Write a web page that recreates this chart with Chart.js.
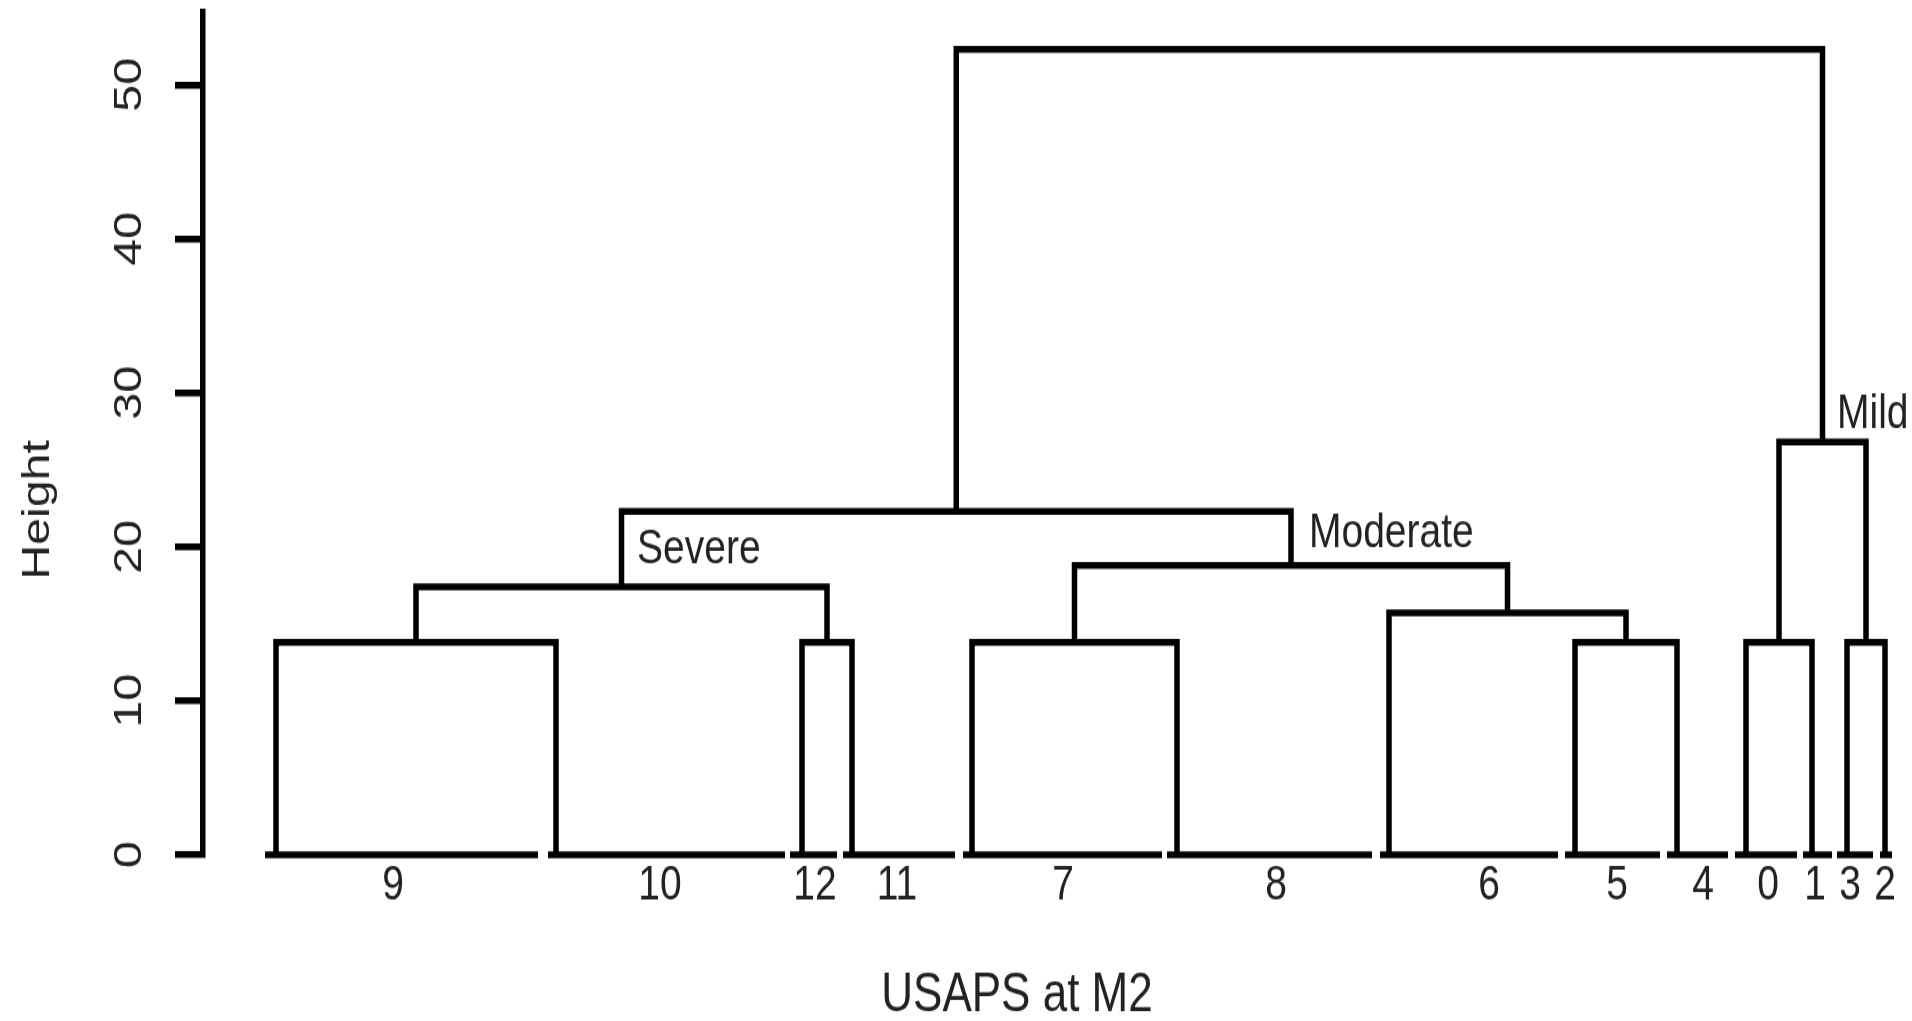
<!DOCTYPE html>
<html><head><meta charset="utf-8">
<script src="https://cdn.jsdelivr.net/npm/chart.js@4.4.1/dist/chart.umd.min.js"></script>
<style>
html,body{margin:0;padding:0;background:#fff;overflow:hidden}
</style>
</head><body>
<canvas id="c" width="1912" height="823" style="display:block;width:1912px;height:1021px"></canvas>
<script>
// ---- data ----
const leafLabels = ['9','10','12','11','7','8','6','5','4','0','1','3','2'];
const leafStart  = [6.2, 34.5, 58.7, 64.0, 76.0, 96.4, 117.7, 136.2, 146.4, 153.2, 160.0, 163.4, 167.7];
const leafEnd    = [33.5, 58.2, 63.4, 75.2, 95.9, 116.9, 135.5, 145.7, 152.5, 159.4, 162.9, 167.0, 168.9];
const leafPos    = [7.3, 35.3, 59.9, 64.9, 76.9, 97.4, 118.6, 137.2, 147.4, 154.3, 160.9, 164.4, 168.2];
const labelPos   = [19.0, 45.7, 61.2, 69.4, 86.0, 107.3, 128.6, 141.4, 150.0, 156.5, 161.2, 164.7, 168.2];
// R-style merge table: negative = leaf (1-based), positive = earlier merge (1-based)
const mergeLeft   = [-1, -3, -5, -8, -10, -12, -7, 1, 3, 8, 5, 10];
const mergeRight  = [-2, -4, -6, -9, -11, -13, 4, 2, 7, 9, 6, 11];
const mergeHeight = [13.8, 13.8, 13.8, 13.8, 13.8, 13.8, 15.7, 17.4, 18.8, 22.3, 26.8, 52.3];
const yTickValues = [0, 10, 20, 30, 40, 50];
const clusterNames = ['Severe', 'Moderate', 'Mild'];
const clusterNameX = [43.4, 110.6, 163.4];
const clusterNameY = [19.8, 20.85, 28.6];
const yTitle = 'Height';
const xTitle = 'USAPS at M2';

// ---- build line paths from the tree ----
const mergeX = [];
function nodeX(i){ return i < 0 ? leafPos[-i-1] : mergeX[i-1]; }
function nodeH(i){ return i < 0 ? 0 : mergeHeight[i-1]; }
const treePts = [];
for (let m = 0; m < mergeHeight.length; m++) {
  const a = mergeLeft[m], b = mergeRight[m], h = mergeHeight[m];
  const xa = nodeX(a), xb = nodeX(b);
  treePts.push({x:xa, y:nodeH(a)}, {x:xa, y:h}, {x:xb, y:h}, {x:xb, y:nodeH(b)}, {x:xb, y:null});
  mergeX.push((xa + xb) / 2);
}
const barPts = [];
leafStart.forEach((s, i) => {
  barPts.push({x:s, y:0}, {x:leafEnd[i], y:0}, {x:leafEnd[i], y:null});
});

const FONT = '"Liberation Sans", Arial, Helvetica, sans-serif';
const TXT = '#222';

const textPlugin = {
  id: 'texts',
  afterDraw(chart) {
    const ctx = chart.ctx, xs = chart.scales.x, ys = chart.scales.y;
    ctx.save();
    ctx.fillStyle = TXT;
    ctx.font = '39px ' + FONT;
    ctx.textAlign = 'center';
    ctx.textBaseline = 'middle';
    yTickValues.forEach(v => {
      ctx.save();
      ctx.translate(ys.right - 73, ys.getPixelForValue(v));
      ctx.rotate(-Math.PI / 2);
      ctx.fillText(String(v), 0, 0);
      ctx.restore();
    });
    ctx.save();
    ctx.translate(38, 411);
    ctx.rotate(-Math.PI / 2);
    ctx.fillText(yTitle, 0, 0);
    ctx.restore();
    ctx.font = '44px ' + FONT;
    ctx.fillText(xTitle, 1017, 803);
    ctx.font = '39px ' + FONT;
    ctx.textAlign = 'left';
    clusterNames.forEach((n, i) => {
      ctx.fillText(n, xs.getPixelForValue(clusterNameX[i]), ys.getPixelForValue(clusterNameY[i]));
    });
    ctx.restore();
  }
};

const lineStyle = {
  borderColor: '#000', borderWidth: 5.5, pointRadius: 0, pointHoverRadius: 0,
  fill: false, tension: 0, spanGaps: false, clip: false, showLine: true,
  borderJoinStyle: 'miter', borderCapStyle: 'butt'
};

const cv = document.getElementById('c');
new Chart(cv, {
  type: 'line',
  data: {
    datasets: [
      Object.assign({ label: 'tree', data: treePts }, lineStyle),
      Object.assign({ label: 'leaves', data: barPts }, lineStyle)
    ]
  },
  options: {
    responsive: false,
    devicePixelRatio: 1,
    animation: false,
    events: [],
    layout: { padding: { top: 10, right: 9, left: 0, bottom: 0 } },
    plugins: { legend: { display: false }, tooltip: { enabled: false }, title: { display: false } },
    scales: {
      x: {
        type: 'linear', min: 0, max: 170,
        afterFit(s) { s.height = 134; },
        afterBuildTicks(s) { s.ticks = labelPos.map(v => ({ value: v })); },
        ticks: {
          autoSkip: false, maxRotation: 0, minRotation: 0, padding: 2,
          color: TXT, font: { family: FONT, size: 39 },
          callback(v, i) { return leafLabels[i]; }
        },
        grid: { display: false, drawTicks: false },
        border: { display: false }
      },
      y: {
        type: 'linear', min: 0, max: 54.7,
        afterFit(s) { s.width = 203; },
        afterBuildTicks(s) { s.ticks = yTickValues.map(v => ({ value: v })); },
        ticks: { display: false },
        grid: { drawOnChartArea: false, drawTicks: true, tickLength: 28, tickWidth: 5.5, lineWidth: 5.5, tickColor: '#000', color: '#000' },
        border: { display: true, color: '#000', width: 5.5 }
      }
    }
  },
  plugins: [textPlugin]
});
cv.style.width = '1912px';
cv.style.height = '1021px';
</script>
</body></html>
